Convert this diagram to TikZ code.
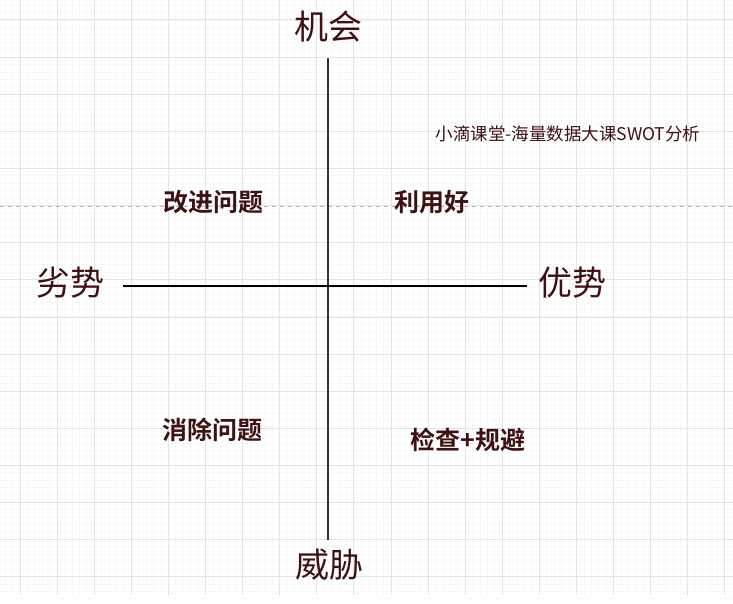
\documentclass[tikz,border=0pt]{standalone}
\usepackage{fontspec}
\usepackage{xcolor}
\newfontfamily\cjk{Noto Sans CJK SC}
\newfontfamily\cjkbold{Noto Sans CJK SC Bold}
\definecolor{ink}{RGB}{62,18,18}
\definecolor{gridmajor}{RGB}{228,228,228}
\definecolor{gridminor}{RGB}{248,248,248}
\tikzset{
    axis-label/.style = {text=ink, font=\cjk\fontsize{34}{36}\selectfont, inner sep=0pt},
    quad-label/.style = {text=ink, font=\cjkbold\fontsize{25}{27}\selectfont, inner sep=0pt},
    title-label/.style = {text=ink, font=\cjk\fontsize{17.5}{19}\selectfont, inner sep=0pt},
    axis-line/.style = {line width=1.5pt},
}

\begin{document}
\begin{tikzpicture}[x=1pt, y=-1pt]
\useasboundingbox (0,0) rectangle (733,604);
\fill[white] (0,0) rectangle (733,604);
% grid
\foreach \i in {0,...,99} {
    \draw[gridminor, line width=0.8pt] ({20+\i*7.42-37.1},0) -- ({20+\i*7.42-37.1},595);
}
\foreach \i in {0,...,84} {
    \draw[gridminor, line width=0.8pt] (0,{20+\i*7.42-37.1}) -- (733,{20+\i*7.42-37.1});
}
\foreach \i in {0,...,19} {
    \draw[gridmajor, line width=1pt] ({20+\i*37.1},0) -- ({20+\i*37.1},595);
}
\foreach \i in {0,...,15} {
    \draw[gridmajor, line width=1pt] (0,{20+\i*37.13}) -- (733,{20+\i*37.13});
}
% dashed guide
\coordinate (guide-l) at (0,206);
\coordinate (guide-r) at (733,206);
\draw[gray!55, dashed, dash pattern=on 4pt off 4pt, line width=0.8pt] (guide-l) -- (guide-r);
% axes
\coordinate (axis-top) at (328,58);
\coordinate (axis-bot) at (328,540);
\coordinate (axis-left) at (123,286);
\coordinate (axis-right) at (527,286);
\draw[axis-line, black!80] (axis-top) -- (axis-bot);
\draw[axis-line, black] (axis-left) -- (axis-right);
% labels
\node[axis-label] (chance) at (328,27) {机会};
\node[axis-label] (threat) at (329,565) {威胁};
\node[axis-label] (weak) at (70,283) {劣势};
\node[axis-label] (strong) at (572,283) {优势};
\node[quad-label] (improve) at (213,202) {改进问题};
\node[quad-label] (useit) at (432,202) {利用好};
\node[quad-label] (remove) at (212,430) {消除问题};
\node[quad-label] (check) at (468,440) {检查+规避};
\node[title-label] (title) at (568,134) {小滴课堂-海量数据大课SWOT分析};
\end{tikzpicture}
\end{document}
